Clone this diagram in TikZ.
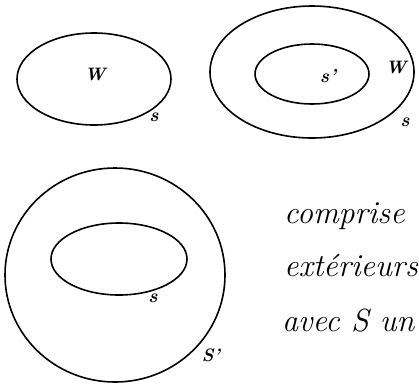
\documentclass[tikz,border=0pt]{standalone}
\usetikzlibrary{positioning}
\tikzset{
  curve/.style={line width=1.6pt,draw=black},
  letter/.style={font=\fontsize{18}{20}\selectfont\bfseries\itshape,inner sep=0pt},
  small letter/.style={font=\fontsize{19}{21}\selectfont\bfseries\itshape,inner sep=0pt},
  script/.style={font=\fontsize{32}{35}\selectfont\itshape,anchor=west,inner sep=0pt}
}
\begin{document}
\begin{tikzpicture}[x=1pt,y=-1pt]
  \useasboundingbox (0,0) rectangle (419,386);
  \clip (0,0) rectangle (419,386);

  % first surface
  \draw[curve] (94,79) ellipse [x radius=77,y radius=46];
  \node[letter] (wone) at (95,74) {W};
  \node[small letter] (sone) at (154,117) {s};

  % ring between s and s'
  \draw[curve] (312,72) ellipse [x radius=102,y radius=66];
  \draw[curve] (312,74) ellipse [x radius=57,y radius=30];
  \node[small letter] (sprime) at (328,76) {s'};
  \node[letter] (wtwo) at (396,67) {W};
  \node[small letter] (stwo) at (405,122) {s};

  % s inside S'
  \draw[curve] (115,275) ellipse [x radius=110,y radius=107];
  \draw[curve] (119,259) ellipse [x radius=68,y radius=36];
  \node[small letter] (sthree) at (153,298) {s};
  \node[letter] (Sprime) at (211,355) {S'};

  % text on the right
  \node[script] (lineone) at (284,216) {comprise};
  \node[script] (linetwo) at (284,266) {extérieurs};
  \node[script] (linethree) at (282,321) {avec \textit{S} un};
\end{tikzpicture}
\end{document}
